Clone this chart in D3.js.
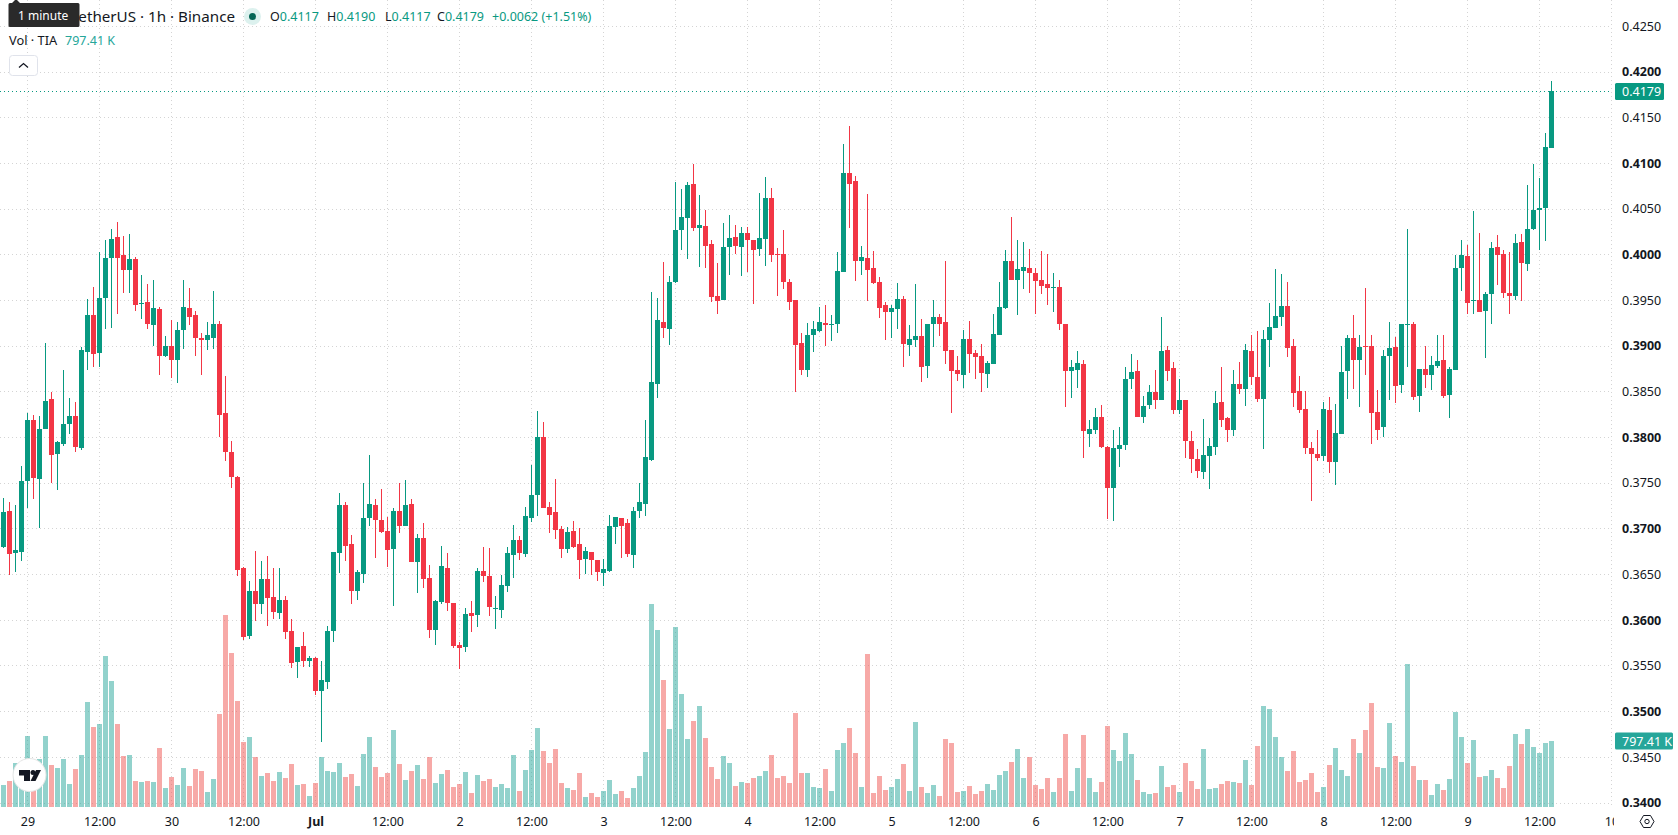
<!DOCTYPE html>
<html>
<head>
<meta charset="utf-8">
<title>TIA / TetherUS 1h</title>
<script src="https://cdn.jsdelivr.net/npm/d3@7/dist/d3.min.js"></script>
<style>
html,body{margin:0;padding:0;background:#fff;overflow:hidden}
svg{display:block;font-family:"Noto Sans",sans-serif}
</style>
</head>
<body>
<svg id="chart" width="1678" height="835"></svg>
<script>
// Hourly candles, oldest first; index 4 is 29 June 00:00, index 258 is 9 July 14:00.
const opens = [.3680,.3720,.3674,.3675,.3753,.3820,.3755,.3810,.3842,.3782,.3793,.3815,.3824,.3789,.3894,.3934,.3893,.3953,.3997,.4020,.4000,.3984,.3996,.3947,.3949,.3923,.3941,.3889,.3900,.3885,.3918,.3942,.3934,.3909,.3907,.3909,.3924,.3827,.3785,.3757,
.3657,.3583,.3632,.3618,.3646,.3626,.3608,.3622,.3589,.3555,.3572,.3556,.3559,.3523,.3533,.3589,.3674,.3726,.3684,.3632,.3651,.3712,.3727,.3710,.3698,.3678,.3720,.3704,.3728,.3664,
.3690,.3647,.3590,.3620,.3658,.3619,.3573,.3571,.3608,.3606,.3654,.3649,.3613,.3612,.3638,.3672,.3688,.3673,.3712,.3737,.3801,.3724,.3719,.3700,.3678,.3698,.3684,.3667,.3675,.3666,.3652,.3654,.3702,.3712,.3707,.3672,.3720,.3728,
.3776,.3859,.3927,.3919,.3971,.4027,.4041,.4078,.4030,.4032,.4012,.3955,.3951,.4009,.4020,.4009,.4024,.4017,.4007,.4018,.4062,.4001,.4001,.3971,.3951,.3904,.3874,.3912,.3917,.3926,.3924,.3924,
.3981,.4090,.4081,.3994,.3997,.3986,.3970,.3945,.3938,.3941,.3952,.3902,.3907,.3911,.3879,.3925,.3932,.3927,.3896,.3874,.3869,.3908,.3893,.3889,.3870,.3881,.3913,.3942,.3994,.3973,.3983,.3986,.3980,.3973,.3968,.3965,.3965,.3925,.3873,.3874,
.3881,.3804,.3809,.3823,.3790,.3745,.3788,.3792,.3864,.3873,.3823,.3836,.3850,.3841,.3896,.3876,.3830,.3841,.3797,.3777,.3763,.3780,.3790,.3839,.3822,.3809,.3859,.3853,.3895,.3867,
.3843,.3907,.3920,.3932,.3944,.3900,.3851,.3832,.3789,.3782,.3780,.3830,.3774,.3804,.3873,.3909,.3885,.3900,.3901,.3828,.3812,.3889,.3899,.3858,.3924,.3925,.3846,.3875,.3869,.3879,.3885,.3847,.3874,.3986,.3999,.3950,.3951,.3939,.3957,.4009,.4001,.3958,.3955,.4014,.3990,.4029,.4049,.4051,.4117];
const highs = [.3734,.3730,.3727,.3769,.3827,.3825,.3824,.3904,.3850,.3797,.3874,.3844,.3839,.3899,.3952,.3965,.4003,.4017,.4029,.4036,.4021,.4023,.3998,.3978,.3968,.3973,.3943,.3911,.3929,.3927,.3973,.3964,.3939,.3915,.3927,.3961,.3928,.3868,.3796,.3758,
.3659,.3643,.3676,.3665,.3671,.3658,.3658,.3627,.3602,.3571,.3588,.3561,.3560,.3556,.3594,.3675,.3740,.3730,.3694,.3655,.3751,.3781,.3733,.3744,.3713,.3723,.3751,.3754,.3733,.3695,
.3707,.3661,.3623,.3682,.3674,.3619,.3577,.3614,.3621,.3657,.3680,.3679,.3627,.3650,.3681,.3705,.3692,.3724,.3770,.3829,.3817,.3730,.3755,.3704,.3702,.3709,.3701,.3680,.3675,.3666,.3667,.3715,.3713,.3712,.3711,.3724,.3750,.3819,
.3960,.3953,.3992,.3977,.4080,.4072,.4080,.4100,.4066,.4049,.4017,.3991,.4035,.4044,.4033,.4031,.4031,.4017,.4068,.4085,.4073,.4008,.4027,.3974,.3951,.3915,.3926,.3928,.3943,.3945,.3934,.4003,
.4122,.4141,.4087,.4010,.4067,.4004,.3976,.3949,.3945,.3969,.3955,.3923,.3968,.3930,.3925,.3951,.3936,.3994,.3896,.3889,.3918,.3928,.3896,.3903,.3884,.3935,.3970,.4006,.4042,.4016,.4014,.4007,.3986,.4004,.4001,.3980,.3973,.3925,.3885,.3895,
.3885,.3820,.3833,.3836,.3791,.3808,.3812,.3877,.3892,.3885,.3846,.3858,.3874,.3932,.3900,.3883,.3864,.3841,.3807,.3788,.3821,.3800,.3851,.3878,.3823,.3874,.3883,.3903,.3913,.3917,
.3918,.3948,.3985,.3979,.3971,.3908,.3868,.3851,.3795,.3809,.3839,.3845,.3837,.3900,.3912,.3934,.3913,.3964,.3913,.3852,.3896,.3927,.3910,.3924,.4028,.3927,.3875,.3900,.3889,.3912,.3912,.3877,.4000,.4017,.4011,.4048,.4024,.3960,.4014,.4022,.4005,.4003,.4023,.4023,.4077,.4100,.4084,.4134,.4190];
const lows = [.3679,.3650,.3653,.3665,.3723,.3733,.3701,.3810,.3751,.3743,.3791,.3804,.3785,.3787,.3874,.3878,.3877,.3919,.3920,.3935,.3958,.3958,.3939,.3930,.3919,.3900,.3869,.3888,.3865,.3860,.3897,.3923,.3890,.3869,.3896,.3897,.3801,.3775,.3745,.3649,
.3579,.3580,.3600,.3607,.3594,.3602,.3602,.3580,.3548,.3537,.3549,.3549,.3519,.3467,.3525,.3576,.3652,.3665,.3618,.3623,.3641,.3703,.3668,.3696,.3659,.3616,.3696,.3704,.3664,.3630,
.3636,.3581,.3573,.3618,.3610,.3570,.3547,.3566,.3588,.3593,.3642,.3605,.3591,.3603,.3631,.3647,.3666,.3670,.3708,.3714,.3723,.3696,.3689,.3668,.3674,.3679,.3645,.3651,.3650,.3643,.3638,.3653,.3684,.3668,.3670,.3658,.3712,.3714,
.3775,.3844,.3909,.3902,.3969,.4006,.3996,.4026,.3987,.3986,.3949,.3935,.3951,.3978,.4001,.3977,.3981,.3946,.3999,.3988,.3992,.3955,.3963,.3940,.3850,.3869,.3866,.3894,.3916,.3901,.3906,.3915,
.3981,.4030,.3972,.3978,.3950,.3968,.3931,.3907,.3909,.3919,.3877,.3890,.3899,.3861,.3865,.3899,.3911,.3881,.3827,.3862,.3854,.3871,.3864,.3850,.3855,.3881,.3913,.3941,.3973,.3934,.3963,.3959,.3935,.3957,.3945,.3938,.3918,.3834,.3844,.3854,
.3778,.3790,.3804,.3789,.3711,.3709,.3768,.3787,.3853,.3823,.3816,.3831,.3831,.3841,.3862,.3826,.3826,.3778,.3761,.3756,.3755,.3744,.3781,.3812,.3795,.3802,.3848,.3835,.3858,.3839,
.3788,.3878,.3920,.3922,.3888,.3834,.3827,.3782,.3731,.3775,.3775,.3762,.3748,.3804,.3842,.3853,.3834,.3869,.3793,.3798,.3801,.3841,.3838,.3849,.3877,.3841,.3828,.3855,.3852,.3876,.3844,.3822,.3874,.3961,.3935,.3936,.3938,.3887,.3924,.3967,.3953,.3936,.3951,.3950,.3982,.4027,.4005,.4015,.4117];
const closes = [.3719,.3673,.3677,.3753,.3820,.3756,.3810,.3840,.3781,.3795,.3815,.3824,.3790,.3896,.3934,.3892,.3953,.3997,.4018,.3997,.3984,.3996,.3945,.3947,.3924,.3942,.3889,.3901,.3885,.3918,.3943,.3932,.3909,.3907,.3912,.3925,.3825,.3784,.3757,.3655,
.3582,.3632,.3618,.3646,.3625,.3609,.3623,.3588,.3554,.3571,.3556,.3559,.3523,.3535,.3589,.3675,.3726,.3682,.3632,.3653,.3712,.3728,.3710,.3697,.3677,.3720,.3704,.3727,.3664,.3690,
.3646,.3590,.3621,.3660,.3619,.3572,.3570,.3607,.3605,.3654,.3649,.3615,.3614,.3639,.3674,.3688,.3674,.3714,.3737,.3801,.3723,.3716,.3699,.3678,.3697,.3681,.3666,.3676,.3666,.3653,.3656,.3703,.3713,.3704,.3673,.3720,.3730,.3779,
.3861,.3929,.3920,.3971,.4027,.4042,.4077,.4030,.4033,.4010,.3954,.3950,.4009,.4019,.4010,.4024,.4017,.4006,.4019,.4062,.4000,.4000,.3971,.3949,.3902,.3874,.3913,.3919,.3927,.3923,.3925,.3983,
.4090,.4078,.3993,.3998,.3984,.3969,.3942,.3938,.3942,.3952,.3903,.3908,.3911,.3878,.3925,.3932,.3925,.3895,.3873,.3870,.3908,.3892,.3888,.3871,.3882,.3914,.3943,.3993,.3973,.3985,.3987,.3980,.3972,.3966,.3964,.3965,.3924,.3873,.3877,.3882,
.3807,.3810,.3823,.3790,.3745,.3789,.3792,.3864,.3872,.3823,.3835,.3850,.3841,.3895,.3873,.3830,.3841,.3797,.3777,.3764,.3781,.3791,.3838,.3820,.3809,.3859,.3853,.3896,.3866,.3843,
.3908,.3921,.3933,.3944,.3898,.3849,.3830,.3789,.3782,.3778,.3831,.3774,.3805,.3872,.3909,.3885,.3899,.3899,.3827,.3809,.3890,.3898,.3857,.3924,.3925,.3845,.3875,.3869,.3880,.3884,.3846,.3875,.3986,.4000,.3948,.3951,.3938,.3957,.4008,.4000,.3958,.3955,.4013,.3991,.4029,.4049,.4052,.4118,.4179];
// Hourly volume in thousands of TIA.
const volumes = [267,316,535,450,863,350,583,863,510,474,583,279,462,632,1264,972,1008,1823,1519,1008,620,632,316,304,316,304,717,231,365,267,474,255,462,437,182,340,1118,2321,1859,1276,
790,851,608,377,413,316,425,352,522,267,279,134,292,608,437,425,535,365,401,255,644,851,486,365,413,936,522,328,437,510,
340,608,292,401,450,243,279,425,170,389,316,340,243,279,231,632,194,450,693,960,680,535,705,292,231,207,413,122,170,122,194,328,158,194,109,231,377,668,
2454,2138,1531,948,2175,1361,826,1045,1215,838,486,340,620,535,255,304,292,352,377,437,632,352,377,292,1130,413,413,243,231,462,194,693,
774,956,652,239,1843,166,373,203,239,336,518,190,1029,239,166,263,130,822,774,178,190,251,154,190,275,203,385,433,543,701,348,603,263,215,348,178,348,883,
190,470,871,348,178,300,980,689,555,895,640,324,178,154,166,494,239,263,178,531,312,215,701,215,227,275,312,300,288,567,263,737,
1223,1187,846,603,433,676,300,324,409,178,239,506,713,446,373,822,652,932,1260,482,470,1017,616,543,1733,494,324,324,142,275,203,336,1150,846,531,810,360,373,446,348,227,494,883,761,944,725,652,774,797.41];
// Axis labels.
const priceTicks = [.34,.345,.35,.355,.36,.365,.37,.375,.38,.385,.39,.395,.40,.405,.41,.415,.42,.425];
const timeTicks = ["29","12:00","30","12:00","Jul","12:00","2","12:00","3","12:00","4","12:00","5","12:00","6","12:00","7","12:00","8","12:00","9","12:00","10"];
const ohlcLegend = [["O","0.4117"],["H","0.4190"],["L","0.4117"],["C","0.4179"]];

const UP = "#089981", DOWN = "#F23645", VOL_UP = "#26a69a", VOL_DOWN = "#ef5350", INK = "#131722", GRID = "#d4d4d4";
const axisLeft = 1614;

const x = d3.scaleLinear().domain([0, 258]).range([3.5, 1551.5]);
const y = d3.scaleLinear().domain([0.34, 0.42]).range([803.3, 72.3]);
const yVol = d3.scaleLinear().domain([0, 797.41]).range([807, 741]);
const px = v => Math.round(v);
const gridRow = v => Math.floor(y(v) - .3) + .5;

const svg = d3.select("#chart");
const defs = svg.append("defs");
defs.append("clipPath").attr("id", "time-clip").append("rect").attr("x", 0).attr("y", 805).attr("width", axisLeft).attr("height", 30);

// Grid
const tickIndex = timeTicks.map((_, k) => 4 + 12 * k);
const grid = svg.append("g").attr("stroke", GRID).attr("stroke-dasharray", "1 3").attr("stroke-width", 1);
grid.selectAll("line.v").data(tickIndex).join("line").attr("class", "v")
  .attr("x1", d => x(d)).attr("x2", d => x(d)).attr("y1", 0).attr("y2", 806);
grid.selectAll("line.h").data(priceTicks).join("line").attr("class", "h")
  .attr("x1", 0).attr("x2", 1612).attr("y1", d => gridRow(d)).attr("y2", d => gridRow(d));

// Volume columns sit under the candles
svg.append("g").attr("shape-rendering", "crispEdges").selectAll("rect").data(volumes).join("rect")
  .attr("x", (d, i) => x(i) - 2.5).attr("width", 5)
  .attr("y", d => px(yVol(d))).attr("height", d => 807 - px(yVol(d)))
  .attr("fill", (d, i) => closes[i] >= opens[i] ? VOL_UP : VOL_DOWN).attr("fill-opacity", .5);

// Candles
const candles = svg.append("g").attr("shape-rendering", "crispEdges").selectAll("g").data(d3.range(opens.length)).join("g")
  .attr("fill", i => closes[i] >= opens[i] ? UP : DOWN);
candles.append("rect").attr("x", i => x(i) - .5).attr("width", 1)
  .attr("y", i => px(y(highs[i]))).attr("height", i => Math.max(1, px(y(lows[i])) - px(y(highs[i]))));
candles.append("rect").attr("x", i => x(i) - 2.5).attr("width", 5)
  .attr("y", i => px(y(Math.max(opens[i], closes[i]))))
  .attr("height", i => Math.max(1, px(y(Math.min(opens[i], closes[i]))) - px(y(Math.max(opens[i], closes[i])))));

// Last-price guide
const last = closes[closes.length - 1];
svg.append("line").attr("x1", 0).attr("x2", 1612).attr("y1", px(y(last)) + .5).attr("y2", px(y(last)) + .5)
  .attr("stroke", UP).attr("stroke-dasharray", "1 3");

// Price axis
const priceAxis = d3.axisRight(y).tickValues(priceTicks).tickSize(0).tickPadding(0).tickFormat(d3.format(".4f"));
const gPrice = svg.append("g").attr("transform", "translate(1622,-0.5)").call(priceAxis);
gPrice.select(".domain").remove();
gPrice.selectAll("text").attr("font-family", '"Noto Sans",sans-serif').attr("font-size", 12.5).attr("fill", INK)
  .attr("font-weight", d => Math.abs(d * 100 - Math.round(d * 100)) < 1e-6 ? 700 : 400);

// Price and volume tags
const tag = (x0, w, yc, fill, label) => {
  svg.append("rect").attr("x", x0).attr("y", yc - 8.5).attr("width", w).attr("height", 17).attr("rx", 1.5).attr("fill", fill);
  svg.append("text").attr("x", 1622).attr("y", yc + 4.5).attr("font-size", 12.5).attr("fill", "#fff").text(label);
};
tag(1615, 49, px(y(last)) + .5, UP, d3.format(".4f")(last));
tag(1615, 58, yVol(797.41), VOL_UP, "797.41 K");

// Time axis
const timeAxis = d3.axisBottom(x).tickValues(tickIndex).tickSize(0).tickPadding(0).tickFormat((d, k) => timeTicks[k]);
const gTime = svg.append("g").attr("clip-path", "url(#time-clip)").append("g").attr("transform", "translate(0,817)").call(timeAxis);
gTime.select(".domain").remove();
gTime.selectAll("text").attr("font-family", '"Noto Sans",sans-serif').attr("font-size", 12.5).attr("fill", INK)
  .attr("font-weight", d => timeTicks[(d - 4) / 12] === "Jul" ? 700 : 400);

// Legend
svg.append("text").attr("x", 235).attr("y", 22).attr("text-anchor", "end").attr("font-size", 15.2).attr("fill", INK)
  .text("etherUS · 1h · Binance");
svg.append("circle").attr("cx", 252.5).attr("cy", 16.5).attr("r", 8.5).attr("fill", "#dcf1ee");
svg.append("circle").attr("cx", 252.5).attr("cy", 16.5).attr("r", 3.5).attr("fill", "#056656");
const legendX = [270, 327, 385, 437];
ohlcLegend.forEach(([k, v], n) => {
  const t = svg.append("text").attr("x", legendX[n]).attr("y", 21).attr("font-size", 12.5).attr("fill", INK);
  t.append("tspan").text(k);
  t.append("tspan").attr("fill", UP).text(v);
});
svg.append("text").attr("x", 492).attr("y", 21).attr("font-size", 12.5).attr("fill", UP).text("+0.0062 (+1.51%)");
svg.append("text").attr("x", 9).attr("y", 45).attr("font-size", 12.8).attr("fill", INK).text("Vol · TIA");
svg.append("text").attr("x", 65).attr("y", 45).attr("font-size", 12.5).attr("fill", VOL_UP).text("797.41 K");

// Collapse button
svg.append("rect").attr("x", 9.5).attr("y", 55.5).attr("width", 28).attr("height", 20).attr("rx", 3)
  .attr("fill", "#fff").attr("stroke", "#e0e3eb");
svg.append("path").attr("d", "M19 67.5 L23.5 63.5 L28 67.5").attr("fill", "none").attr("stroke", INK).attr("stroke-width", 1.3);

// Hover tooltip above the legend
svg.append("path").attr("d", "M10 3 H78 a1.5 1.5 0 0 1 1.5 1.5 V25.5 a1.5 1.5 0 0 1 -1.5 1.5 H10 a1.5 1.5 0 0 1 -1.5 -1.5 V4.5 a1.5 1.5 0 0 1 1.5 -1.5 Z M12 3 L16 -1 L20 3 Z").attr("fill", "#2a2a2a");
svg.append("text").attr("x", 18).attr("y", 20).attr("font-size", 12).attr("fill", "#fff").text("1 minute");

// Brand badge
svg.append("circle").attr("cx", 29.5).attr("cy", 775).attr("r", 16.5).attr("fill", "#fff").attr("stroke", "#e6e6e6");
svg.append("path").attr("d", "M19 770 H30 V781 H24 V775.5 H19 Z").attr("fill", "#131722");
svg.append("circle").attr("cx", 33).attr("cy", 772.5).attr("r", 2.5).attr("fill", "#131722");
svg.append("path").attr("d", "M36 770 H41 L35.5 781 H30.5 Z").attr("fill", "#131722");

// Settings glyph
svg.append("path").attr("d", "M1640 821.5 L1643.5 815.5 H1650.5 L1654 821.5 L1650.5 827.5 H1643.5 Z").attr("fill", "none").attr("stroke", INK);
svg.append("circle").attr("cx", 1647).attr("cy", 821.5).attr("r", 2.2).attr("fill", "none").attr("stroke", INK);
</script>
</body>
</html>
